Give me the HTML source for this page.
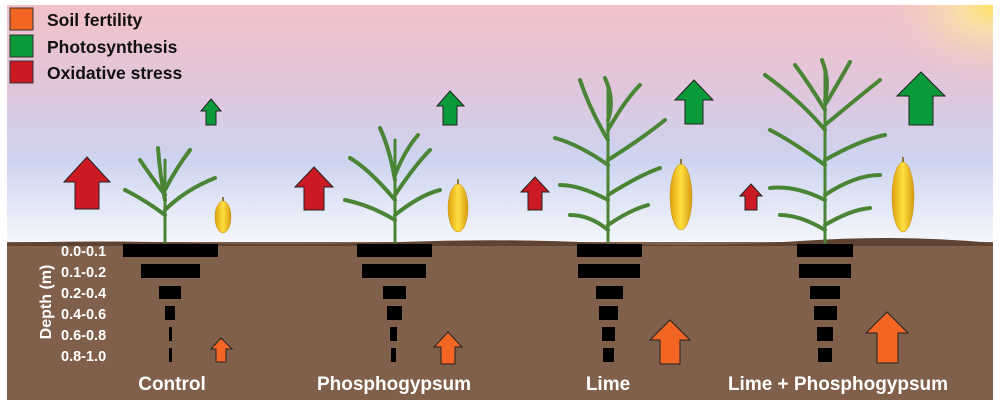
<!DOCTYPE html>
<html><head><meta charset="utf-8"><style>
html,body{margin:0;padding:0;background:#fff}
svg{display:block}
text{font-family:"Liberation Sans",Arial,sans-serif;font-weight:bold}
</style></head><body>
<svg width="1000" height="408" viewBox="0 0 1000 408" xmlns="http://www.w3.org/2000/svg">
<defs>
<linearGradient id="sky" x1="0" y1="0" x2="0" y2="1">
<stop offset="0" stop-color="#f2c2c8"/>
<stop offset="0.35" stop-color="#e0c6dc"/>
<stop offset="0.65" stop-color="#cdd4f0"/>
<stop offset="1" stop-color="#f6f8fc"/>
</linearGradient>
<radialGradient id="sun" cx="1" cy="0" r="1">
<stop offset="0" stop-color="#ffe060"/>
<stop offset="0.3" stop-color="#fbe6a0" stop-opacity="0.8"/>
<stop offset="1" stop-color="#f4c8c8" stop-opacity="0"/>
</radialGradient>
<linearGradient id="cob" x1="0" y1="0" x2="1" y2="0">
<stop offset="0" stop-color="#e0a010"/><stop offset="0.5" stop-color="#ffe040"/><stop offset="1" stop-color="#d89a10"/>
</linearGradient>
</defs>
<rect x="7" y="5" width="986" height="240" fill="url(#sky)"/>
<rect x="880" y="5" width="113" height="80" fill="url(#sun)"/>
<rect x="7" y="242" width="986" height="158" fill="#80604a"/>
<path d="M7 243 Q100 240 200 243 T400 242 T600 243 T800 241 T993 243 L993 246 L7 246Z" fill="#5e4332"/>

<!-- legend -->
<rect x="10" y="8" width="23" height="22" fill="#f26522" stroke="#333"/>
<rect x="10" y="35" width="23" height="22" fill="#0b9a3a" stroke="#333"/>
<rect x="10" y="61" width="23" height="22" fill="#cc1a24" stroke="#333"/>
<text x="47" y="26" font-size="17.5" fill="#111">Soil fertility</text>
<text x="47" y="53" font-size="17.5" fill="#111">Photosynthesis</text>
<text x="47" y="79" font-size="17.5" fill="#111">Oxidative stress</text>

<g stroke="#222" stroke-width="1">
<polygon fill="#cc1a24" points="87,157 110,182 99,182 99,209 75,209 75,182 64,182"/>
<polygon fill="#cc1a24" points="314,167 333,187 324,187 324,210 304,210 304,187 295,187"/>
<polygon fill="#cc1a24" points="535,177 549,192 542,192 542,210 528,210 528,192 521,192"/>
<polygon fill="#cc1a24" points="751,184 762,196 757,196 757,210 745,210 745,196 740,196"/>
<polygon fill="#0b9a3a" points="211,99 221,111 216,111 216,125 206,125 206,111 201,111"/>
<polygon fill="#0b9a3a" points="450,91 464,106 457,106 457,125 443,125 443,106 437,106"/>
<polygon fill="#0b9a3a" points="694,80 713,100 703,100 703,124 685,124 685,100 675,100"/>
<polygon fill="#0b9a3a" points="921,72 945,96 933,96 933,125 909,125 909,96 897,96"/>
<polygon fill="#f26522" points="221,338 232,349 226,349 226,362 216,362 216,349 211,349"/>
<polygon fill="#f26522" points="448,332 462,347 455,347 455,364 441,364 441,347 434,347"/>
<polygon fill="#f26522" points="670,320 690,340 680,340 680,364 660,364 660,340 650,340"/>
<polygon fill="#f26522" points="887,312 908,333 898,333 898,363 877,363 877,333 866,333"/>
</g>

<g fill="#000">
<rect x="123" y="244" width="95" height="13"/><rect x="141" y="264" width="59" height="14"/><rect x="159" y="286" width="22" height="13"/><rect x="165" y="306" width="10" height="14"/><rect x="169" y="327" width="3" height="14"/><rect x="169" y="348" width="3" height="14"/>
<rect x="357" y="244" width="75" height="13"/><rect x="362" y="264" width="64" height="14"/><rect x="383" y="286" width="23" height="13"/><rect x="387" y="306" width="15" height="14"/><rect x="390" y="327" width="7" height="14"/><rect x="391" y="348" width="5" height="14"/>
<rect x="577" y="244" width="65" height="13"/><rect x="578" y="264" width="62" height="14"/><rect x="596" y="286" width="27" height="13"/><rect x="599" y="306" width="19" height="14"/><rect x="602" y="327" width="13" height="14"/><rect x="603" y="348" width="11" height="14"/>
<rect x="797" y="244" width="56" height="13"/><rect x="799" y="264" width="52" height="14"/><rect x="810" y="286" width="30" height="13"/><rect x="814" y="306" width="23" height="14"/><rect x="817" y="327" width="16" height="14"/><rect x="818" y="348" width="14" height="14"/>
</g>

<g fill="#fff" font-size="14.5">
<text x="61" y="256">0.0-0.1</text><text x="61" y="277">0.1-0.2</text><text x="61" y="298">0.2-0.4</text><text x="61" y="319">0.4-0.6</text><text x="61" y="340">0.6-0.8</text><text x="61" y="361">0.8-1.0</text>
</g>
<text transform="translate(51,302) rotate(-90)" text-anchor="middle" font-size="16" fill="#fff">Depth (m)</text>
<g fill="#fff" font-size="19" text-anchor="middle">
<text x="172" y="390">Control</text><text x="394" y="390">Phosphogypsum</text><text x="608" y="390">Lime</text><text x="838" y="390">Lime + Phosphogypsum</text>
</g>

<g fill="none" stroke="#4a8536" stroke-linecap="round">
<g stroke-width="3">
<path d="M165 242 L165 160"/><path d="M395 242 L395 140"/><path d="M608 242 L608 90"/><path d="M825 242 L825 70"/>
</g>
<g stroke-width="4">
<path d="M165 215 Q145 200 125 190"/><path d="M165 210 Q185 190 215 178"/><path d="M165 195 Q150 175 140 160"/><path d="M165 190 Q175 170 190 150"/><path d="M165 200 Q160 175 158 148"/>
<path d="M395 220 Q370 205 345 200"/><path d="M395 215 Q420 195 440 190"/><path d="M395 200 Q370 170 350 158"/><path d="M395 195 Q415 165 430 150"/><path d="M395 180 Q390 150 380 128"/><path d="M395 175 Q405 150 418 135"/>
<path d="M608 230 Q590 215 570 215"/><path d="M608 225 Q630 210 648 205"/><path d="M608 200 Q580 185 560 185"/><path d="M608 195 Q640 175 660 168"/><path d="M608 165 Q580 145 555 138"/><path d="M608 160 Q640 140 665 120"/><path d="M608 140 Q590 110 580 80"/><path d="M608 130 Q625 100 640 85"/><path d="M608 120 Q615 100 605 78"/>
<path d="M825 230 Q800 215 780 215"/><path d="M825 225 Q850 210 870 208"/><path d="M825 200 Q795 185 770 188"/><path d="M825 195 Q855 175 880 175"/><path d="M825 165 Q790 140 770 130"/><path d="M825 160 Q860 140 885 135"/><path d="M825 130 Q800 100 765 75"/><path d="M825 125 Q855 100 880 80"/><path d="M825 110 Q810 85 795 65"/><path d="M825 105 Q840 80 850 62"/><path d="M825 100 Q830 80 822 60"/>
</g>
</g>

<g fill="url(#cob)" stroke="#c08a10" stroke-width="0.5">
<ellipse cx="223" cy="217" rx="8" ry="16"/>
<ellipse cx="458" cy="208" rx="10" ry="24"/>
<ellipse cx="681" cy="197" rx="11" ry="33"/>
<ellipse cx="903" cy="197" rx="11" ry="35"/>
</g>
<g stroke="#8a7a40" stroke-width="2">
<path d="M223 201 V197"/><path d="M458 184 V179"/><path d="M681 164 V159"/><path d="M903 162 V157"/>
</g>
</svg>
</body></html>
